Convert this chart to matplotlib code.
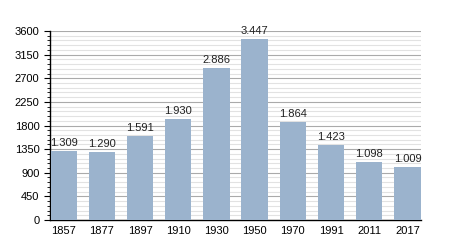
import matplotlib.pyplot as plt
from matplotlib.ticker import MultipleLocator

plt.rcParams["font.family"] = ["Liberation Sans", "DejaVu Sans"]

years = ["1857", "1877", "1897", "1910", "1930", "1950", "1970", "1991", "2011", "2017"]
population = [1309, 1290, 1591, 1930, 2886, 3447, 1864, 1423, 1098, 1009]
labels = ["1.309", "1.290", "1.591", "1.930", "2.886", "3.447", "1.864", "1.423", "1.098", "1.009"]

fig = plt.figure(figsize=(4.5, 2.5), dpi=100)
ax = fig.add_axes([0.111, 0.12, 0.825, 0.756])

x = range(len(years))
bars = ax.bar(x, population, width=0.69, color="#9bb3cd", zorder=3)

for bar, txt in zip(bars, labels):
    ax.text(bar.get_x() + bar.get_width() / 2, bar.get_height() + 60, txt,
            ha="center", va="bottom", fontsize=8, color="#222222", zorder=4)

ax.set_xticks(list(x))
ax.set_xticklabels(years)
ax.set_xlim(-0.36, 9.36)
ax.set_ylim(0, 3600)
ax.yaxis.set_major_locator(MultipleLocator(450))
ax.yaxis.set_minor_locator(MultipleLocator(90))

ax.grid(axis="y", which="major", color="#aaaaaa", linewidth=0.8, zorder=0)
ax.grid(axis="y", which="minor", color="#e2e2e2", linewidth=0.8, zorder=0)

ax.tick_params(axis="x", length=0, labelsize=8, pad=4)
ax.tick_params(axis="y", which="major", length=4, labelsize=8, direction="out")
ax.tick_params(axis="y", which="minor", length=2, direction="out")

for s in ["top", "right"]:
    ax.spines[s].set_visible(False)
ax.spines["left"].set_linewidth(1)
ax.spines["bottom"].set_linewidth(1)

fig.savefig("out.png", dpi=100)
